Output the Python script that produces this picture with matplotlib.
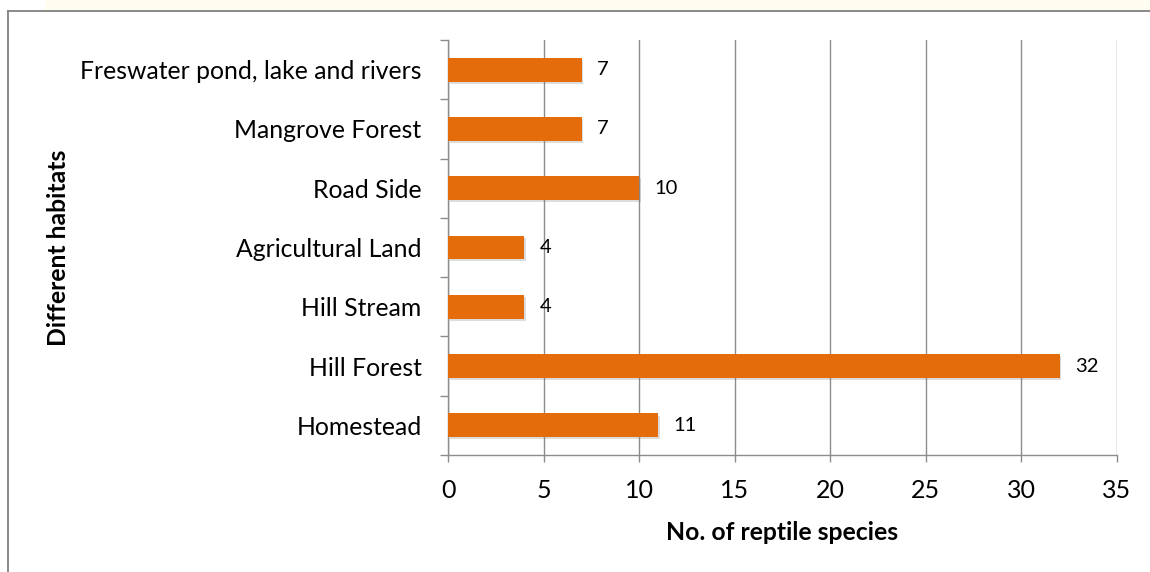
import matplotlib
matplotlib.use("Agg")
import matplotlib.pyplot as plt
from matplotlib.lines import Line2D
from matplotlib.patches import Rectangle
import matplotlib.patheffects as pe

categories = ["Homestead", "Hill Forest", "Hill Stream", "Agricultural Land",
              "Road Side", "Mangrove Forest", "Freswater pond, lake and rivers"]
values = [11, 32, 4, 4, 10, 7, 7]
xticks = [0, 5, 10, 15, 20, 25, 30, 35]

FONT = ["Lato", "DejaVu Sans"]
plt.rcParams['font.family'] = FONT

BAR = "#E46C0A"
GRID = "#8C8C8C"

fig = plt.figure(figsize=(11.5, 5.72), dpi=100)
fig.patch.set_facecolor("white")

# top light strip and frame border
fig.patches.append(Rectangle((45/1150, 1 - 10/572), 1, 10/572, transform=fig.transFigure,
                             facecolor="#FFFDEF", edgecolor="none", zorder=0))
fig.add_artist(Line2D([7.5/1150, 7.5/1150], [0, 1 - 10.5/572], transform=fig.transFigure,
                      color="#808080", lw=1.3))
fig.add_artist(Line2D([7.5/1150, 1], [1 - 10.5/572, 1 - 10.5/572], transform=fig.transFigure,
                      color="#808080", lw=1.3))

ax = fig.add_axes([448/1150, 1 - 455/572, (1117 - 448)/1150, (455 - 40)/572])

ypos = list(range(len(categories)))
bars = ax.barh(ypos, values, height=0.4, color=BAR, zorder=3)
for b in bars:
    b.set_path_effects([pe.SimplePatchShadow(offset=(1.2, -1.5), shadow_rgbFace="#777777", alpha=0.25),
                        pe.Normal()])

for y, v in zip(ypos, values):
    ax.annotate(str(v), xy=(v, y), xytext=(11, 0), textcoords="offset points",
                ha="left", va="center", fontsize=14.5, color="#000000", zorder=4)

ax.set_xlim(0, 35)
ax.set_ylim(-0.5, len(categories) - 0.5)
ax.set_xticks(xticks)
ax.set_xticklabels([str(t) for t in xticks], fontsize=18)
ax.set_yticks(ypos)
ax.set_yticklabels(categories, fontsize=17.8)
ax.set_yticks([i - 0.5 for i in range(len(categories) + 1)], minor=True)

ax.tick_params(axis="y", which="major", length=0, pad=19)
ax.tick_params(axis="y", which="minor", length=6, width=1.0, color=GRID, direction="out")
ax.tick_params(axis="x", which="major", length=5, width=1.0, color=GRID, direction="out", pad=12)

ax.xaxis.grid(True, color=GRID, lw=1.0, zorder=0)
ax.set_axisbelow(True)
for s in ["top", "right"]:
    ax.spines[s].set_visible(False)
for s in ["left", "bottom"]:
    ax.spines[s].set_color(GRID)
    ax.spines[s].set_linewidth(1.0)

ax.set_xlabel("No. of reptile species", fontsize=17.8, fontweight="bold", labelpad=14)
ax.set_ylabel("Different habitats", fontsize=17.8, fontweight="bold")
ax.yaxis.set_label_coords(-(448 - 70)/669, 0.5)

fig.savefig("out.png", dpi=100)
